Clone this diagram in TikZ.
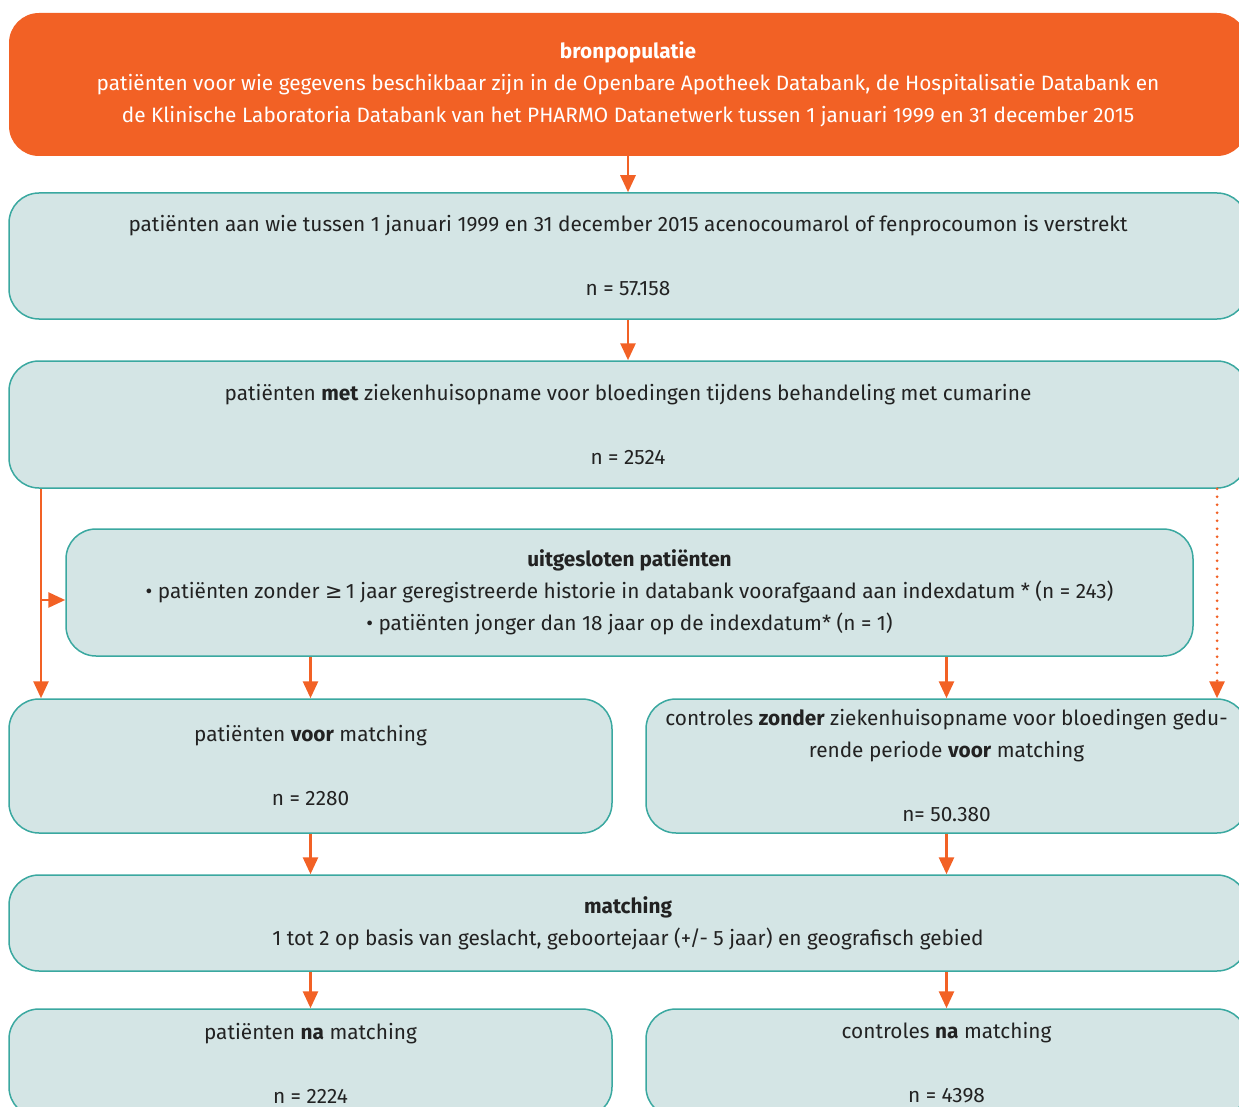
\documentclass[tikz,border=0pt]{standalone}
\usepackage{fontspec}
\setmainfont{Fira Sans}
\newfontfamily\symfont{DejaVu Sans}
\usetikzlibrary{arrows.meta}
\definecolor{oranje}{HTML}{F26125}
\definecolor{lichtblauw}{HTML}{D4E5E5}
\definecolor{teal}{HTML}{3AA8A0}
\definecolor{tekst}{HTML}{222222}
\tikzset{
  vak/.style={draw=teal,line width=1.5pt,fill=lichtblauw,rounded corners=30pt,inner sep=0pt,align=center,text=tekst},
  bron/.style={fill=oranje,rounded corners=30pt,inner sep=0pt,align=center,text=white},
  pijl/.style={draw=oranje,line width=2.8pt,-{Triangle[length=17pt,width=15pt]}},
}
\begin{document}
\begin{tikzpicture}[x=1pt,y=-1pt,font=\fontsize{20.8}{32}\selectfont]
\useasboundingbox (0,0) rectangle (1239,1107);
\path (628,84.5) node[bron,minimum width=1238pt,minimum height=143pt] (bron) {\textbf{bronpopulatie}\\patiënten voor wie gegevens beschikbaar zijn in de Openbare Apotheek Databank, de Hospitalisatie Databank en\\de Klinische Laboratoria Databank van het PHARMO Datanetwerk tussen 1 januari 1999 en 31 december 2015};
%%%
\path (628,256) node[vak,minimum width=1238pt,minimum height=126pt] (verstrekt) {patiënten aan wie tussen 1 januari 1999 en 31 december 2015 acenocoumarol of fenprocoumon is verstrekt\\[32pt]n = 57.158};
\path (628,424.5) node[vak,minimum width=1238pt,minimum height=127pt] (met) {patiënten \textbf{met} ziekenhuisopname voor bloedingen tijdens behandeling met cumarine\\[32pt]n = 2524};
\path (629.5,592.5) node[vak,minimum width=1127pt,minimum height=127pt] (uitgesloten) {\textbf{uitgesloten patiënten}\\• patiënten zonder {\symfont ≥}\,1 jaar geregistreerde historie in databank voorafgaand aan indexdatum * (n = 243)\\• patiënten jonger dan 18 jaar op de indexdatum* (n = 1)};
%%%
\path (310.5,766) node[vak,minimum width=603pt,minimum height=134pt] (voorL) {patiënten \textbf{voor} matching\\[32pt]n = 2280};
\path (946.5,766) node[vak,minimum width=601pt,minimum height=134pt] (voorR) {controles \textbf{zonder} ziekenhuisopname voor bloedingen gedu-\\rende periode \textbf{voor} matching\\[32pt]n= 50.380};
\path (628,923) node[vak,minimum width=1238pt,minimum height=96pt] (matching) {\textbf{matching}\\1 tot 2 op basis van geslacht, geboortejaar (+/- 5 jaar) en geografisch gebied};
\path (310.5,1063) node[vak,minimum width=603pt,minimum height=108pt] (naL) {patiënten \textbf{na} matching\\[32pt]n = 2224};
\path (946.5,1063) node[vak,minimum width=601pt,minimum height=108pt] (naR) {controles \textbf{na} matching\\[32pt]n = 4398};
%%%
\coordinate (links) at (41,600);
\coordinate (stip) at (1217,600);
\draw[pijl] (bron.south) -- (verstrekt.north);
\draw[pijl] (verstrekt.south) -- (met.north);
\draw[pijl] (links |- met.south) -- (links |- voorL.north);
\draw[pijl] (links) -- (links -| uitgesloten.west);
\draw[pijl,line width=3pt,line cap=round,dash pattern=on 0pt off 8pt] (stip |- met.south) -- (stip |- voorR.north);
\draw[pijl] (voorL.north |- uitgesloten.south) -- (voorL.north);
\draw[pijl] (voorR.north |- uitgesloten.south) -- (voorR.north);
\draw[pijl] (voorL.south) -- (voorL.south |- matching.north);
\draw[pijl] (voorR.south) -- (voorR.south |- matching.north);
\draw[pijl] (naL.north |- matching.south) -- (naL.north);
\draw[pijl] (naR.north |- matching.south) -- (naR.north);
\end{tikzpicture}
\end{document}
